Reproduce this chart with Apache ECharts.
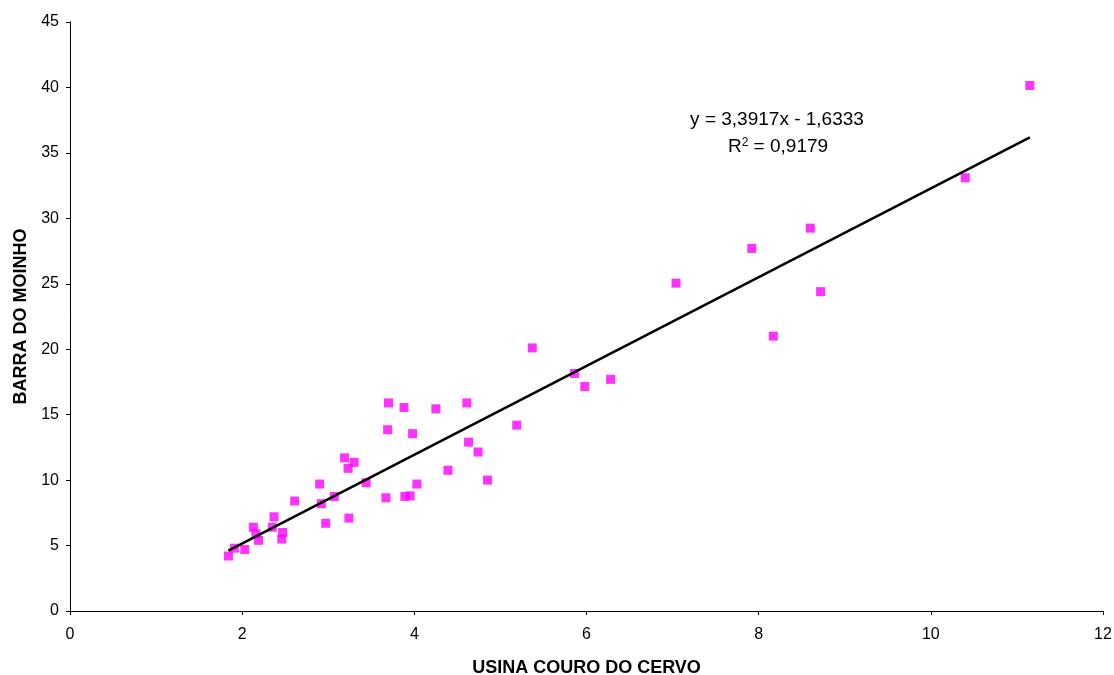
<!DOCTYPE html>
<html>
<head>
<meta charset="utf-8">
<script src="https://cdn.jsdelivr.net/npm/echarts@6/dist/echarts.min.js"></script>
<style>
  html, body { margin: 0; padding: 0; background: #fff; }
  #chart { width: 1114px; height: 675px; }
</style>
</head>
<body>
<div id="chart"></div>
<script>
// USINA COURO DO CERVO (x) vs BARRA DO MOINHO (y)
var usinaCouro = [
  1.84, 1.91, 2.03, 2.13, 2.16, 2.19, 2.37, 2.35, 2.47, 2.46,
  2.61, 2.90, 2.92, 2.97, 3.07, 3.19, 3.30, 3.23, 3.24, 3.44,
  3.67, 3.69, 3.70, 3.88, 3.89, 3.95, 3.98, 4.03, 4.25, 4.39,
  4.61, 4.63, 4.74, 4.85, 5.19, 5.37, 5.86, 5.98, 6.28, 7.04,
  7.92, 8.17, 8.60, 8.72, 10.40, 11.15
];
var barraMoinho = [
  4.2, 4.8, 4.7, 6.4, 5.9, 5.4, 7.2, 6.4, 6.0, 5.5,
  8.4, 9.7, 8.2, 6.7, 8.75, 11.7, 11.35, 10.9, 7.1, 9.8,
  8.65, 13.85, 15.9, 15.55, 8.75, 8.8, 13.55, 9.7, 15.45, 10.75,
  15.9, 12.9, 12.15, 10.0, 14.2, 20.1, 18.15, 17.15, 17.7, 25.05,
  27.7, 21.0, 29.25, 24.4, 33.1, 40.15
];
var slope = 3.3917;
var intercept = -1.6333;
var equationText = "y = 3,3917x - 1,6333";
var r2Text = "0,9179";

var points = usinaCouro.map(function (x, i) { return [x, barraMoinho[i]]; });
var xMin = Math.min.apply(null, usinaCouro);
var xMax = Math.max.apply(null, usinaCouro);
var trend = [xMin, xMax].map(function (x) { return [x, slope * x + intercept]; });

var dom = document.getElementById("chart");
var myChart = echarts.init(dom);
var fam = "Liberation Sans, Arial, sans-serif";
var labelFont = { color: "#000", fontFamily: fam, fontSize: 16 };
var nameFont = { color: "#000", fontFamily: fam, fontSize: 18, fontWeight: "bold" };

var option = {
  animation: false,
  backgroundColor: "#fff",
  grid: { left: 70, right: 11, top: 22, bottom: 64, outerBoundsMode: "none", containLabel: false },
  xAxis: {
    type: "value",
    min: 0,
    max: 12,
    interval: 2,
    name: "USINA COURO DO CERVO",
    nameLocation: "middle",
    nameGap: 48,
    nameTextStyle: nameFont,
    axisLine: { lineStyle: { color: "#000", width: 1 } },
    axisTick: { show: true, length: 4, lineStyle: { color: "#000" } },
    axisLabel: Object.assign({ margin: 16 }, labelFont),
    splitLine: { show: false }
  },
  yAxis: {
    type: "value",
    min: 0,
    max: 45,
    interval: 5,
    name: "BARRA DO MOINHO",
    nameLocation: "middle",
    nameGap: 38,
    nameTextStyle: nameFont,
    axisLine: { show: true, lineStyle: { color: "#000", width: 1 } },
    axisTick: { show: true, length: 4, lineStyle: { color: "#000" } },
    axisLabel: Object.assign({ margin: 11 }, labelFont),
    splitLine: { show: false }
  },
  series: [
    {
      type: "scatter",
      data: points,
      symbol: "rect",
      symbolSize: 9,
      itemStyle: { color: "#ff00ff" },
      z: 3
    },
    {
      type: "line",
      data: trend,
      showSymbol: false,
      symbol: "none",
      lineStyle: { color: "#000", width: 2.5 },
      z: 4
    }
  ],
  graphic: [
    {
      type: "text",
      x: 777,
      y: 120,
      style: {
        text: equationText,
        fill: "#000",
        font: "19px " + fam,
        align: "center",
        verticalAlign: "middle"
      }
    },
    {
      type: "text",
      x: 778,
      y: 147,
      style: {
        text: "R{sup|2} = " + r2Text,
        fill: "#000",
        font: "19px " + fam,
        align: "center",
        verticalAlign: "middle",
        rich: {
          sup: { fontSize: 12, fontFamily: fam, verticalAlign: "top", padding: [0, 0, 9, 0] }
        }
      }
    }
  ]
};
option && "object" == typeof option && myChart.setOption(option, true);
</script>
</body>
</html>
